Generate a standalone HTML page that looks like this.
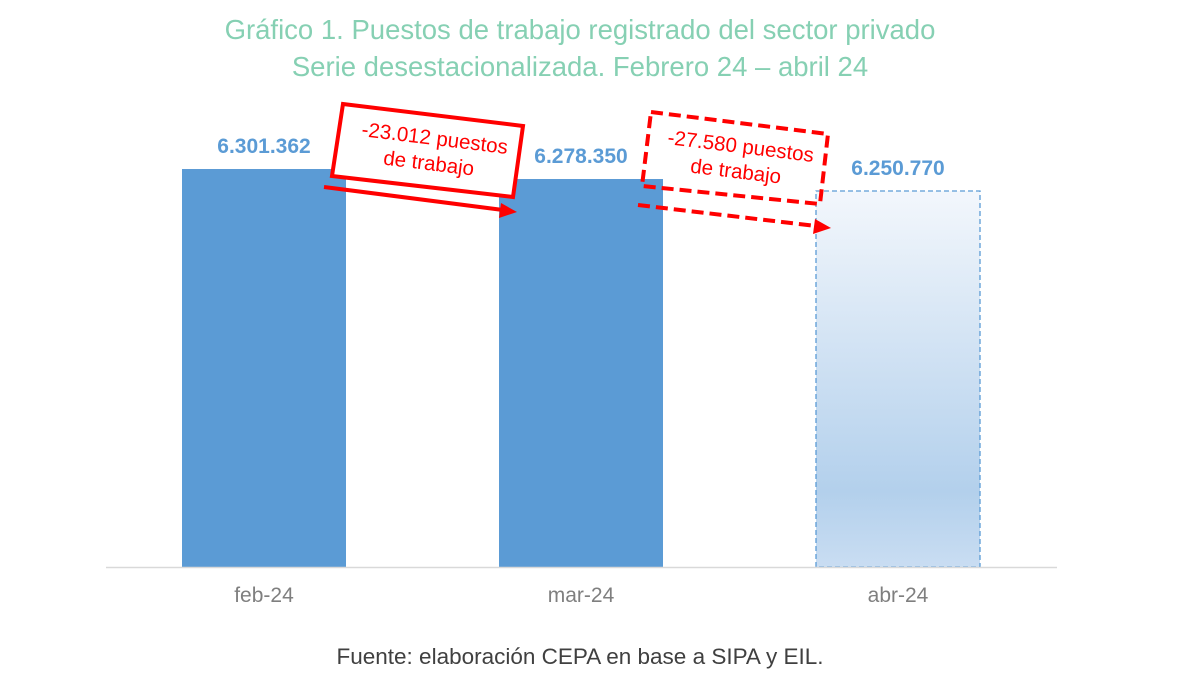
<!DOCTYPE html>
<html><head><meta charset="utf-8"><style>
body{margin:0;background:#fff;}
svg text{font-family:"Liberation Sans",sans-serif;}
</style></head><body>
<svg width="1200" height="680" viewBox="0 0 1200 680">
<defs>
<linearGradient id="g" x1="0" y1="0" x2="0" y2="1">
<stop offset="0" stop-color="#f3f7fc"/><stop offset="0.8" stop-color="#b3d0ec"/><stop offset="1" stop-color="#c9ddf2"/>
</linearGradient>
</defs>
<text x="580" y="39" text-anchor="middle" font-size="27.5" fill="#86d0b3">Gráfico 1. Puestos de trabajo registrado del sector privado</text>
<text x="580" y="76" text-anchor="middle" font-size="27.5" fill="#86d0b3">Serie desestacionalizada. Febrero 24 – abril 24</text>
<g id="bars"></g>
<line x1="106" y1="567.5" x2="1057" y2="567.5" stroke="#d9d9d9" stroke-width="1.5"/>
<g>
<polygon points="343,104 523,126 513,197 332,176" fill="#fff" stroke="#f00" stroke-width="4"/>
<text transform="translate(434,145) rotate(7)" text-anchor="middle" font-size="20.5" fill="#f00">-23.012 puestos</text>
<text transform="translate(428,170) rotate(7)" text-anchor="middle" font-size="20.5" fill="#f00">de trabajo</text>
<line x1="324" y1="187" x2="503" y2="210" stroke="#f00" stroke-width="4"/>
<polygon points="517,212 501,203 499,218" fill="#f00"/>
</g>
<g>
<polygon points="651,112 828,134 820,204 642,186" fill="none" stroke="#f00" stroke-width="4" stroke-dasharray="12,6"/>
<text transform="translate(740,153) rotate(7)" text-anchor="middle" font-size="20.5" fill="#f00">-27.580 puestos</text>
<text transform="translate(735,178) rotate(7)" text-anchor="middle" font-size="20.5" fill="#f00">de trabajo</text>
<line x1="638" y1="205" x2="816" y2="226" stroke="#f00" stroke-width="4" stroke-dasharray="12,6"/>
<polygon points="831,228 815,219 813,234" fill="#f00"/>
</g>
<text x="580" y="664" text-anchor="middle" font-size="22.5" fill="#404040">Fuente: elaboración CEPA en base a SIPA y EIL.</text>
</svg>
<script>
const categories=["feb-24","mar-24","abr-24"];
const values=[6301362,6278350,6250770];
const labels=["6.301.362","6.278.350","6.250.770"];
const base=567, yMin=5385500, unitsPerPx=2301.2;
function y(v){return base-(v-yMin)/unitsPerPx;}
function x(i){return 182+i*317;}
const bw=164, ns="http://www.w3.org/2000/svg";
const g=document.getElementById('bars');
categories.forEach((c,i)=>{
  const r=document.createElementNS(ns,'rect');
  const top=y(values[i]);
  r.setAttribute('x',x(i));r.setAttribute('y',top);r.setAttribute('width',bw);r.setAttribute('height',base-top);
  if(i===2){r.setAttribute('fill','url(#g)');r.setAttribute('stroke','#5b9bd5');r.setAttribute('stroke-dasharray','5,3');r.setAttribute('stroke-width','1.3');}
  else r.setAttribute('fill','#5b9bd5');
  
  
  g.appendChild(r);
  const t=document.createElementNS(ns,'text');
  t.setAttribute('x',x(i)+bw/2);t.setAttribute('y',top-16);t.setAttribute('text-anchor','middle');
  t.setAttribute('font-size','21');t.setAttribute('font-weight','bold');t.setAttribute('fill','#5b9bd5');
  t.textContent=labels[i];
  
  
  g.appendChild(t);
  const l=document.createElementNS(ns,'text');
  l.setAttribute('x',x(i)+bw/2);l.setAttribute('y',602);l.setAttribute('text-anchor','middle');
  l.setAttribute('font-size','21');l.setAttribute('fill','#7f7f7f');
  l.textContent=c;
  
  
  g.appendChild(l);
});
</script>
</body></html>
